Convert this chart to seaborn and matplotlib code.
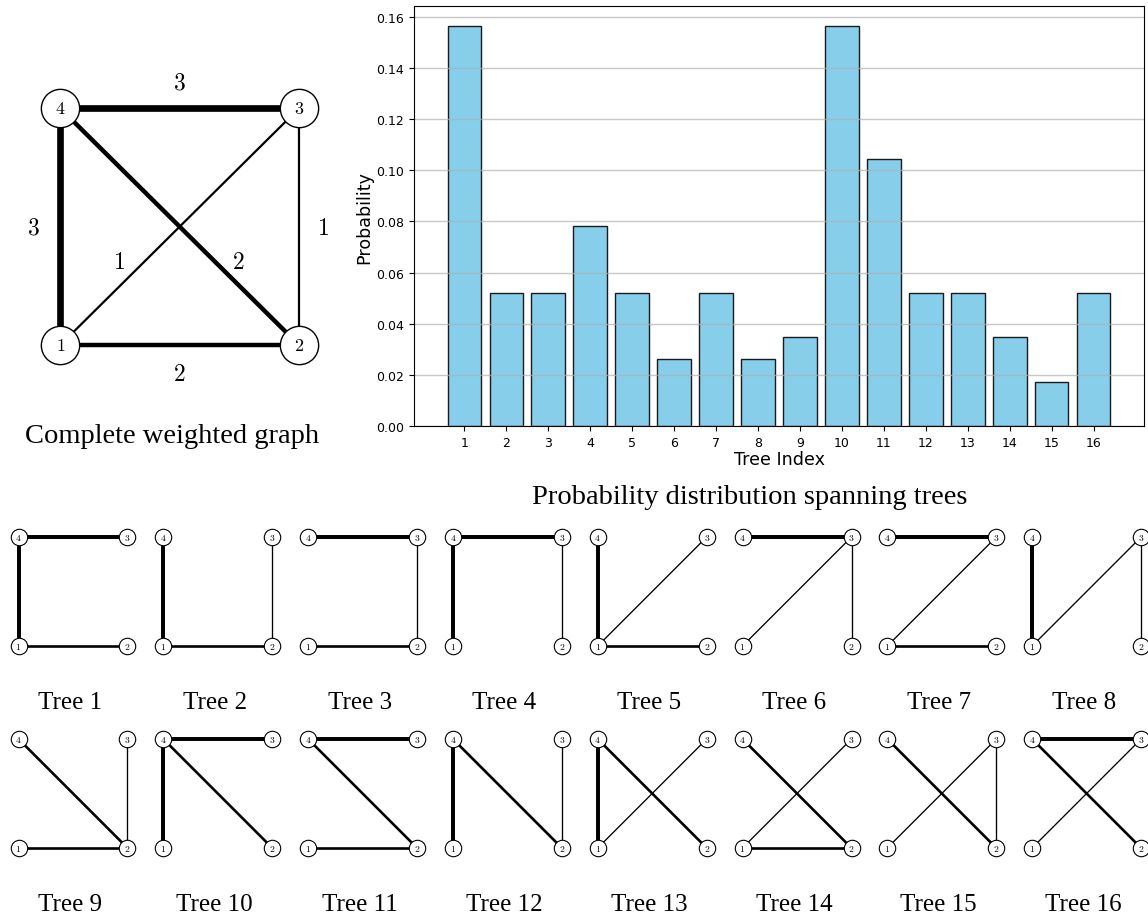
import matplotlib
matplotlib.use("Agg")
import matplotlib.pyplot as plt
import seaborn as sns
import pandas as pd

# ---------------- data ----------------
tree_labels = ["1", "2", "3", "4", "5", "6", "7", "8",
               "9", "10", "11", "12", "13", "14", "15", "16"]
probabilities = [0.1565, 0.0522, 0.0522, 0.0783, 0.0522, 0.0261, 0.0522, 0.0261,
                 0.0348, 0.1565, 0.1043, 0.0522, 0.0522, 0.0348, 0.0174, 0.0522]

graph_nodes = [1, 2, 3, 4]
graph_edges = [(4, 3), (4, 1), (4, 2), (1, 2), (2, 3), (1, 3)]
graph_weights = [3, 3, 2, 2, 1, 1]

tree_edges = [
    [(4, 3), (4, 1), (1, 2)],
    [(4, 1), (1, 2), (2, 3)],
    [(4, 3), (3, 2), (1, 2)],
    [(4, 3), (4, 1), (3, 2)],
    [(4, 1), (1, 3), (1, 2)],
    [(4, 3), (3, 1), (3, 2)],
    [(4, 3), (3, 1), (1, 2)],
    [(4, 1), (1, 3), (3, 2)],
    [(4, 2), (1, 2), (2, 3)],
    [(4, 3), (4, 1), (4, 2)],
    [(4, 3), (4, 2), (1, 2)],
    [(4, 1), (4, 2), (3, 2)],
    [(4, 1), (4, 2), (1, 3)],
    [(4, 2), (1, 3), (1, 2)],
    [(4, 2), (1, 3), (3, 2)],
    [(4, 3), (4, 2), (1, 3)],
]

# ---------------- layout ----------------
node_pos = {1: (0.0, 0.0), 2: (1.0, 0.0), 3: (1.0, 1.0), 4: (0.0, 1.0)}
edge_label_pos = {(4, 3): (0.5, 1.115), (4, 1): (-0.113, 0.5), (2, 3): (1.099, 0.5),
                  (1, 2): (0.5, -0.118), (1, 3): (0.246, 0.355), (4, 2): (0.747, 0.355)}
weight_of = {frozenset(e): w for e, w in zip(graph_edges, graph_weights)}

W, H = 1148, 920
plt.rcParams['mathtext.fontset'] = 'cm'
SERIF = ['Liberation Serif', 'DejaVu Serif']

fig = plt.figure(figsize=(W / 100, H / 100), dpi=100)


def px_axes(left, top, right, bottom):
    return fig.add_axes([left / W, 1 - bottom / H, (right - left) / W, (bottom - top) / H])


def graph_axes(box, x0, x1, ybot, ytop):
    l, t, r, b = box
    ax = px_axes(l, t, r, b)
    sx = x1 - x0
    sy = ybot - ytop
    ax.set_xlim((l - x0) / sx, (r - x0) / sx)
    ax.set_ylim((ybot - b) / sy, (ybot - t) / sy)
    ax.axis('off')
    return ax


def draw_graph(ax, edges, lw_per_weight, node_s, node_fs, node_lw):
    for (a, b) in edges:
        w = weight_of[frozenset((a, b))]
        xa, ya = node_pos[a]
        xb, yb = node_pos[b]
        ax.plot([xa, xb], [ya, yb], color='black', lw=lw_per_weight * w,
                solid_capstyle='butt', zorder=2, clip_on=False)
    xs = [node_pos[n][0] for n in graph_nodes]
    ys = [node_pos[n][1] for n in graph_nodes]
    ax.scatter(xs, ys, s=node_s, facecolor='white', edgecolor='black',
               linewidths=node_lw, zorder=3, clip_on=False)
    for n in graph_nodes:
        ax.text(node_pos[n][0], node_pos[n][1], f"${n}$", ha='center', va='center',
                fontsize=node_fs, zorder=4, clip_on=False)


# ---------------- complete weighted graph ----------------
axg = graph_axes((0, 60, 350, 460), 60.3, 299.0, 346.0, 109.3)
draw_graph(axg, graph_edges, 1.6, 760, 13, 1.0)
for e, w in zip(graph_edges, graph_weights):
    key = e if e in edge_label_pos else (e[1], e[0])
    x, y = edge_label_pos[key]
    axg.text(x, y, f"${w}$", ha='center', va='center', fontsize=17)
fig.text(172 / W, 1 - 437 / H, "Complete weighted graph", ha='center', va='center',
         fontsize=20.5, family=SERIF)

# ---------------- bar chart ----------------
axb = px_axes(414, 7, 1144, 427)
df = pd.DataFrame({"Tree Index": tree_labels, "Probability": probabilities})
sns.barplot(data=df, x="Tree Index", y="Probability", color="skyblue", saturation=1,
            edgecolor="#1a1a1a", linewidth=1, errorbar=None, width=0.8, ax=axb)
axb.set_xlim(-1.2, 16.2)
axb.set_ylim(0, 0.1643)
axb.set_yticks([0.00, 0.02, 0.04, 0.06, 0.08, 0.10, 0.12, 0.14, 0.16])
axb.set_yticklabels(["0.00", "0.02", "0.04", "0.06", "0.08", "0.10", "0.12", "0.14", "0.16"])
axb.set_axisbelow('line')
axb.yaxis.grid(True, color='#b0b0b0', alpha=0.7, lw=1)
axb.xaxis.grid(False)
axb.tick_params(labelsize=9)
axb.set_xlabel("Tree Index", fontsize=12.6, labelpad=1)
axb.set_ylabel("Probability", fontsize=12.6, labelpad=2)
for s in axb.spines.values():
    s.set_visible(True)
    s.set_color('black')

fig.text(750 / W, 1 - 497 / H, "Probability distribution spanning trees", ha='center',
         va='center', fontsize=20.5, family=SERIF)

# ---------------- spanning trees ----------------
for k, edges in enumerate(tree_edges):
    r, c = divmod(k, 8)
    x0 = 18.5 + 144.8 * c
    ytop = 538 + 202 * r
    x1 = x0 + 109
    ybot = ytop + 109
    ax = graph_axes((x0 - 20, ytop - 20, x1 + 20, ybot + 20), x0, x1, ybot, ytop)
    draw_graph(ax, edges, 0.95, 140, 7, 0.8)
    fig.text((x0 + 51.5) / W, 1 - (703 + 202 * r) / H, f"Tree {tree_labels[k]}",
             ha='center', va='center', fontsize=18, family=SERIF)

fig.savefig("out.png", dpi=100)
